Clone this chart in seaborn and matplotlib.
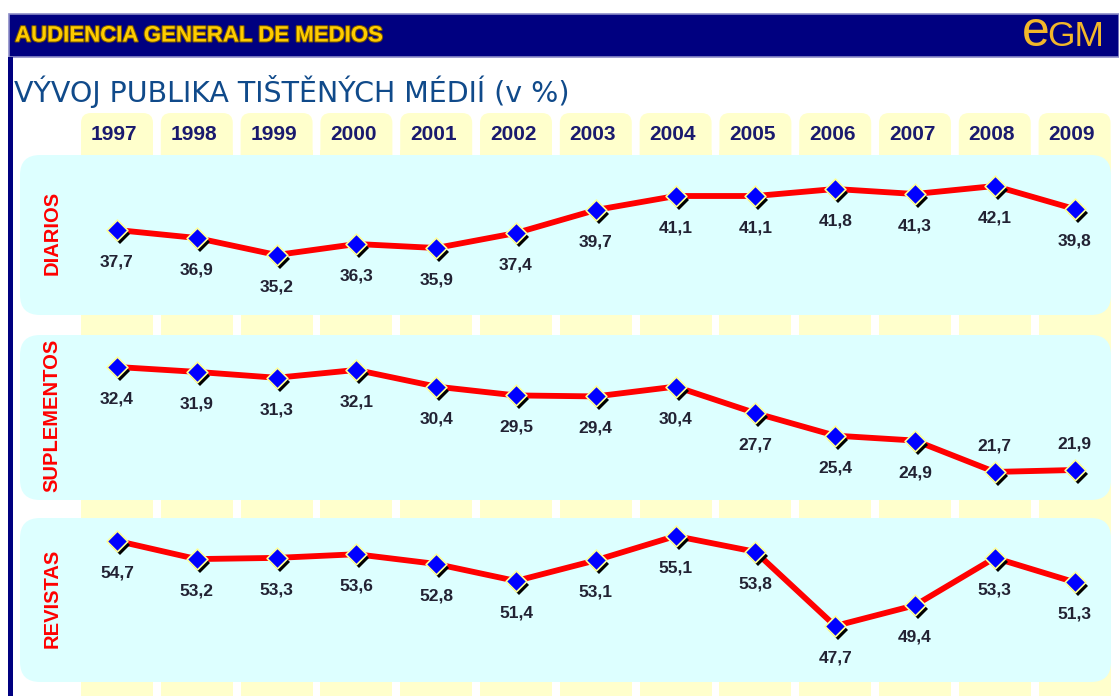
import matplotlib
matplotlib.use("Agg")
import matplotlib.pyplot as plt
import seaborn as sns
import pandas as pd
from matplotlib.patches import FancyBboxPatch, Rectangle
from matplotlib.transforms import offset_copy
import matplotlib.patheffects as pe

sns.set_style("white")
plt.rcParams['font.family'] = ['Liberation Sans', 'DejaVu Sans']

# ---------------- data ----------------
years = [1997, 1998, 1999, 2000, 2001, 2002, 2003, 2004, 2005, 2006, 2007, 2008, 2009]
diarios = [37.7, 36.9, 35.2, 36.3, 35.9, 37.4, 39.7, 41.1, 41.1, 41.8, 41.3, 42.1, 39.8]
suplementos = [32.4, 31.9, 31.3, 32.1, 30.4, 29.5, 29.4, 30.4, 27.7, 25.4, 24.9, 21.7, 21.9]
revistas = [54.7, 53.2, 53.3, 53.6, 52.8, 51.4, 53.1, 55.1, 53.8, 47.7, 49.4, 53.3, 51.3]
series_names = ["DIARIOS", "SUPLEMENTOS", "REVISTAS"]
header_title = "AUDIENCIA GENERAL DE MEDIOS"
chart_title = "VÝVOJ PUBLIKA TIŠTĚNÝCH MÉDIÍ (v %)"

W, H = 1119, 696
fig = plt.figure(figsize=(W / 100, H / 100), dpi=100)
fig.patch.set_facecolor("white")

# pixel-space decoration axes
P = fig.add_axes([0, 0, 1, 1], zorder=0)
P.set_xlim(0, W)
P.set_ylim(H, 0)
P.axis("off")

# x scale shared by data axes: year -> pixel
PX_PER_YEAR = 79.8
X0 = 1997 - 117 / PX_PER_YEAR
X1 = X0 + W / PX_PER_YEAR

# panels: (top px, bottom px, ylim top, ylim bottom)
panels = [
    (155, 315, 45.2, 29.2),
    (335, 500, 35.66, 18.84),
    (518, 682, 56.58, 43.09),
]
series = [diarios, suplementos, revistas]
label_above = [set(), {11, 12}, set()]

data_axes = []
for (top, bot, yt, yb) in panels:
    ax = fig.add_axes([0, 1 - bot / H, 1, (bot - top) / H], zorder=2)
    ax.set_xlim(X0, X1)
    ax.set_ylim(yb, yt)
    ax.patch.set_alpha(0)
    ax.axis("off")
    data_axes.append(ax)

def year_px(y):
    return data_axes[0].transData.transform((y, 0))[0]

# header bar
P.add_patch(Rectangle((9, 14), W - 9, 43, facecolor="#000080", edgecolor="#8c8cc8", lw=1.2, zorder=1))
P.add_patch(Rectangle((8, 57), 5, H - 57, facecolor="#000080", edgecolor="none", zorder=1))
P.text(15, 36, header_title, color="#ffcc00", fontsize=16, fontweight="bold", va="center", ha="left",
       path_effects=[pe.withStroke(linewidth=1.5, foreground="#7a5a00")], zorder=3)
P.text(1050, 46, "e", color="#f2b72a", fontsize=36, va="baseline", ha="right", zorder=3)
P.text(1047, 46, "GM", color="#f2b72a", fontsize=25.5, va="baseline", ha="left", zorder=3)

# chart title
P.text(14, 92, chart_title, color="#104a8a", fontsize=20.5, va="center", ha="left",
       family="DejaVu Sans", zorder=3)

# year columns and tabs
for yv in years:
    cx = year_px(yv)
    P.add_patch(FancyBboxPatch((cx - 36, 113), 72, 60, boxstyle="round,pad=0,rounding_size=10",
                               facecolor="#ffffcc", edgecolor="none", zorder=1))
    P.add_patch(Rectangle((cx - 36, 150), 72, H - 150, facecolor="#ffffcc", edgecolor="none", zorder=1))
    P.text(cx - 3, 135, str(yv), color="#1a1a6e", fontsize=15, fontweight="bold", ha="center", va="center", zorder=3)

# panels
for (top, bot, _, _), name in zip(panels, series_names):
    P.add_patch(FancyBboxPatch((20, top), 1091, bot - top, boxstyle="round,pad=0,rounding_size=20",
                               facecolor="#ddffff", edgecolor="none", zorder=2))
    P.text(52, (top + bot) / 2 - 2, name, color="#ff0000", fontsize=14.5, fontweight="bold",
           rotation=90, ha="center", va="center", zorder=3)

# data
for ax, vals, above in zip(data_axes, series, label_above):
    df = pd.DataFrame({"year": years, "value": vals})
    sns.lineplot(data=df, x="year", y="value", ax=ax, color="#ff0000", linewidth=4.2, zorder=2)
    shadow = offset_copy(ax.transData, fig=fig, x=3, y=-4, units="dots")
    ax.plot(df["year"], df["value"], "D", color="black", markersize=10.5, markeredgewidth=0,
            transform=shadow, zorder=3, clip_on=False)
    sns.scatterplot(data=df, x="year", y="value", ax=ax, marker="D", s=112, color="#0000ff",
                    edgecolor="#ffff99", linewidth=1.2, zorder=4, clip_on=False)
    for i, (yv, v) in enumerate(zip(years, vals)):
        dy = 26 if i in above else -32
        ax.annotate(f"{v:.1f}".replace(".", ","), (yv, v), xytext=(0, dy), textcoords="offset pixels",
                    ha="center", va="center", fontsize=12.5, fontweight="bold", color="#222233", zorder=5)
    ax.set_xlabel("")
    ax.set_ylabel("")
    ax.axis("off")

fig.savefig("out.png", dpi=100)
